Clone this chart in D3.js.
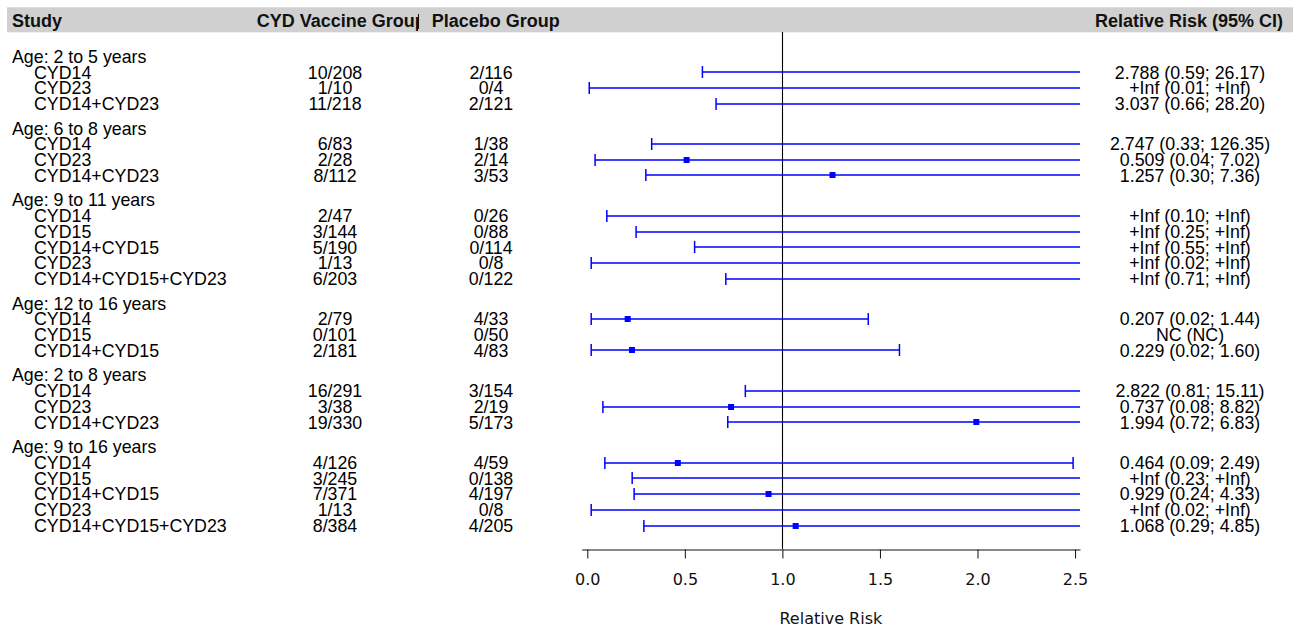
<!DOCTYPE html>
<html>
<head>
<meta charset="utf-8">
<script src="https://cdn.jsdelivr.net/npm/d3@7"></script>
<style>
  html, body { margin: 0; padding: 0; background: #fff; }
  text { font-family: "Liberation Sans", Arial, sans-serif; }
  .axis text { font-family: "DejaVu Sans", sans-serif; font-size: 16px; fill: #111; }
  .axis path, .axis line { stroke: #111; }
</style>
</head>
<body>
<div id="main"></div>
<script>
// forest plot: relative risk by age group and study
const groups = ['Age: 2 to 5 years', 'Age: 6 to 8 years', 'Age: 9 to 11 years',
  'Age: 12 to 16 years', 'Age: 2 to 8 years', 'Age: 9 to 16 years'];
const studyGroup = [0, 0, 0, 1, 1, 1, 2, 2, 2, 2, 2, 3, 3, 3, 4, 4, 4, 5, 5, 5, 5, 5];
const studies = ['CYD14', 'CYD23', 'CYD14+CYD23',
  'CYD14', 'CYD23', 'CYD14+CYD23',
  'CYD14', 'CYD15', 'CYD14+CYD15', 'CYD23', 'CYD14+CYD15+CYD23',
  'CYD14', 'CYD15', 'CYD14+CYD15',
  'CYD14', 'CYD23', 'CYD14+CYD23',
  'CYD14', 'CYD15', 'CYD14+CYD15', 'CYD23', 'CYD14+CYD15+CYD23'];
const vaccine = ['10/208', '1/10', '11/218', '6/83', '2/28', '8/112',
  '2/47', '3/144', '5/190', '1/13', '6/203', '2/79', '0/101', '2/181',
  '16/291', '3/38', '19/330', '4/126', '3/245', '7/371', '1/13', '8/384'];
const placebo = ['2/116', '0/4', '2/121', '1/38', '2/14', '3/53',
  '0/26', '0/88', '0/114', '0/8', '0/122', '4/33', '0/50', '4/83',
  '3/154', '2/19', '5/173', '4/59', '0/138', '4/197', '0/8', '4/205'];
// Infinity = +Inf, null = NC
const rr = [2.788, Infinity, 3.037, 2.747, 0.509, 1.257,
  Infinity, Infinity, Infinity, Infinity, Infinity, 0.207, null, 0.229,
  2.822, 0.737, 1.994, 0.464, Infinity, 0.929, Infinity, 1.068];
const lower = [0.59, 0.01, 0.66, 0.33, 0.04, 0.30,
  0.10, 0.25, 0.55, 0.02, 0.71, 0.02, null, 0.02,
  0.81, 0.08, 0.72, 0.09, 0.23, 0.24, 0.02, 0.29];
const upper = [26.17, Infinity, 28.20, 126.35, 7.02, 7.36,
  Infinity, Infinity, Infinity, Infinity, Infinity, 1.44, null, 1.60,
  15.11, 8.82, 6.83, 2.49, Infinity, 4.33, Infinity, 4.85];
const xTicks = [0, 0.5, 1, 1.5, 2, 2.5];
const headers = ['Study', 'CYD Vaccine Group', 'Placebo Group', 'Relative Risk (95% CI)'];

!(function () {
  'use strict';

  let
    svg = undefined,
    xScale = undefined,
    yScale = undefined,
    rowY = [],
    headY = [];

  const canvas = {
    context: '#main',
    width: 1297,
    height: 629,
    fontSize: 17.8,
    plot: { left: 581.7, right: 1080, top: 32, axisY: 549 },
    col: { study: 12, indent: 34, vaccine: 335, placebo: 491, ci: 1190 },
    rows: { first: 56.5, last: 525.5, gap: 1.556 }
  };

  function fmtCI(i) {
    if (rr[i] === null) return 'NC (NC)';
    const f = (v, d) => (v === Infinity ? '+Inf' : v.toFixed(d));
    return f(rr[i], 3) + ' (' + f(lower[i], 2) + '; ' + f(upper[i], 2) + ')';
  }

  function setCanvas() {
    svg = d3.select(canvas.context)
      .append('svg')
      .attr('width', canvas.width)
      .attr('height', canvas.height);
  }

  function setScales() {
    // slot units: one per row, a little more before each group heading
    let u = 0;
    studyGroup.forEach((g, i) => {
      if (i === 0 || g !== studyGroup[i - 1]) {
        if (i > 0) u += canvas.rows.gap;
        headY[g] = u;
      }
      u += 1;
      rowY[i] = u;
    });
    yScale = d3.scaleLinear()
      .domain([0, u])
      .range([canvas.rows.first, canvas.rows.last]);

    const unit = 195.1;
    const x0 = 587.3;
    xScale = d3.scaleLinear()
      .domain([(canvas.plot.left - x0) / unit, (canvas.plot.right - x0) / unit])
      .range([canvas.plot.left, canvas.plot.right]);
  }

  function setHeader() {
    svg.append('rect')
      .attr('x', 7).attr('y', 7.3)
      .attr('width', 1286).attr('height', 25)
      .attr('fill', '#d0d0d0');

    svg.append('clipPath').attr('id', 'vacClip')
      .append('rect').attr('x', 250).attr('y', 0).attr('width', 168).attr('height', 40);

    const h = svg.append('g')
      .attr('font-weight', 'bold')
      .attr('font-size', 18)
      .attr('fill', '#111');
    h.append('text').attr('x', canvas.col.study).attr('y', 27).text(headers[0]);
    h.append('text').attr('x', 256.7).attr('y', 27)
      .attr('clip-path', 'url(#vacClip)').text(headers[1]);
    h.append('line').attr('x1', 418.5).attr('x2', 418.5).attr('y1', 14).attr('y2', 29)
      .attr('stroke', '#111').attr('stroke-width', 1);
    h.append('text').attr('x', 431.7).attr('y', 27).text(headers[2]);
    h.append('text').attr('x', 1283).attr('y', 27)
      .attr('text-anchor', 'end').text(headers[3]);
  }

  function setText() {
    const g = svg.append('g')
      .attr('font-size', canvas.fontSize)
      .attr('fill', '#000');
    const dy = 6.3;

    g.selectAll('.grp').data(groups).join('text')
      .attr('class', 'grp')
      .attr('x', canvas.col.study)
      .attr('y', (d, i) => yScale(headY[i]) + dy)
      .text(d => d);

    const rows = g.selectAll('.row').data(studies).join('g').attr('class', 'row')
      .attr('transform', (d, i) => 'translate(0,' + (yScale(rowY[i]) + dy) + ')');
    rows.append('text').attr('x', canvas.col.indent).text(d => d);
    rows.append('text').attr('x', canvas.col.vaccine).attr('text-anchor', 'middle')
      .text((d, i) => vaccine[i]);
    rows.append('text').attr('x', canvas.col.placebo).attr('text-anchor', 'middle')
      .text((d, i) => placebo[i]);
    rows.append('text').attr('x', canvas.col.ci).attr('text-anchor', 'middle')
      .text((d, i) => fmtCI(i));
  }

  function setMarks() {
    const xMax = xScale.domain()[1];

    svg.append('line')
      .attr('x1', Math.round(xScale(1)) + 0.5).attr('x2', Math.round(xScale(1)) + 0.5)
      .attr('y1', canvas.plot.top).attr('y2', canvas.plot.axisY)
      .attr('stroke', '#000').attr('stroke-width', 1.1);

    const g = svg.append('g').attr('stroke', '#0000ff').attr('fill', '#0000ff');
    studies.forEach((s, i) => {
      if (lower[i] === null) return;
      const y = Math.round(yScale(rowY[i]));
      const hi = Math.min(upper[i], xMax);
      g.append('line')
        .attr('x1', xScale(lower[i])).attr('x2', xScale(hi))
        .attr('y1', y).attr('y2', y).attr('stroke-width', 1.6);
      g.append('line')
        .attr('x1', xScale(lower[i])).attr('x2', xScale(lower[i]))
        .attr('y1', y - 6).attr('y2', y + 6).attr('stroke-width', 1.5);
      if (upper[i] <= xMax) {
        g.append('line')
          .attr('x1', xScale(upper[i])).attr('x2', xScale(upper[i]))
          .attr('y1', y - 6).attr('y2', y + 6).attr('stroke-width', 1.5);
      }
      if (rr[i] !== null && rr[i] <= xMax) {
        g.append('rect')
          .attr('x', xScale(rr[i]) - 3).attr('y', y - 3)
          .attr('width', 6).attr('height', 6)
          .attr('stroke', 'none');
      }
    });
  }

  function setXAxis() {
    const ax = svg.append('g')
      .attr('class', 'axis')
      .attr('transform', 'translate(0,' + (canvas.plot.axisY + 0.5) + ')')
      .call(d3.axisBottom(xScale)
        .tickValues(xTicks)
        .tickFormat(d3.format('.1f'))
        .tickSize(9)
        .tickSizeOuter(0)
        .tickPadding(15.6));
    ax.select('.domain').attr('stroke-width', 1);

    svg.append('text')
      .attr('x', (canvas.plot.left + canvas.plot.right) / 2)
      .attr('y', 624)
      .attr('text-anchor', 'middle')
      .style('font-family', '"DejaVu Sans", sans-serif')
      .attr('font-size', 16)
      .attr('fill', '#111')
      .text('Relative Risk');
  }

  // control
  setCanvas();
  setScales();
  setHeader();
  setMarks();
  setText();
  setXAxis();
}());
</script>
</body>
</html>
